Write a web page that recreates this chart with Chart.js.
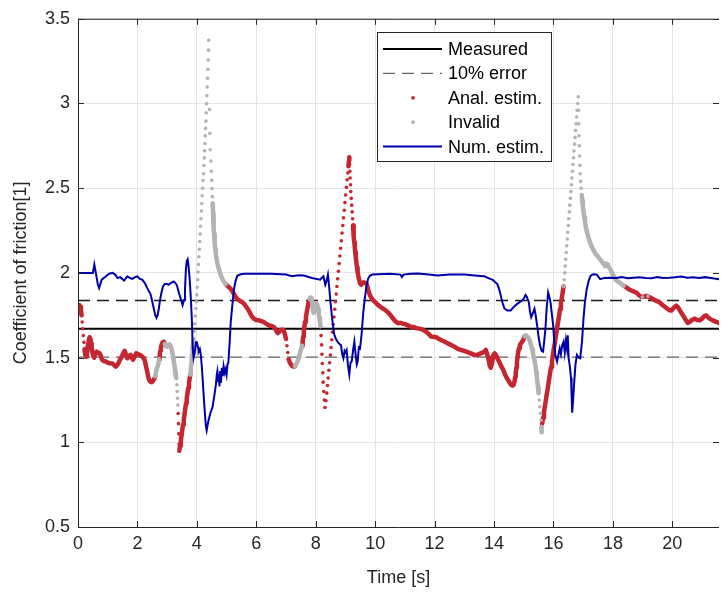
<!DOCTYPE html>
<html>
<head>
<meta charset="utf-8">
<script src="https://cdn.jsdelivr.net/npm/chart.js@4.4.1/dist/chart.umd.min.js"></script>
<style>
  html, body { margin: 0; padding: 0; background: #fff; }
  #wrap { width: 723px; height: 597px; }
</style>
</head>
<body>
<div id="wrap"><canvas id="c" width="723" height="597"></canvas></div>
<script>
// ---- data ----
var xTicks = [0, 2, 4, 6, 8, 10, 12, 14, 16, 18, 20];
var yTicks = [0.5, 1, 1.5, 2, 2.5, 3, 3.5];
var xMax = 21.57;

var measured = 1.67;
var errHi = 1.837;
var errLo = 1.503;

// numerical estimate [t, mu]
var numEst = [
	[0,2.0],[0.5,2.0],[0.55,2.05],[0.6,2.0],[0.67,1.93],[0.71,1.91],[0.8,1.96],[0.94,1.98],[1.05,1.995],
	[1.16,2.0],[1.25,1.99],[1.33,1.97],[1.42,1.975],[1.55,1.955],[1.66,1.98],[1.75,1.97],[1.83,1.965],
	[1.92,1.975],[2.0,1.98],[2.08,1.965],[2.16,1.96],[2.25,1.94],[2.33,1.91],[2.44,1.875],[2.5,1.83],
	[2.55,1.79],[2.6,1.75],[2.64,1.735],[2.68,1.75],[2.72,1.79],[2.77,1.85],[2.81,1.885],[2.86,1.92],
	[2.92,1.935],[3.0,1.935],[3.05,1.93],[3.12,1.94],[3.22,1.95],[3.28,1.94],[3.33,1.925],[3.4,1.88],
	[3.46,1.846],[3.52,1.81],[3.57,1.84],[3.6,1.9],[3.63,2.02],[3.66,2.07],[3.69,2.08],[3.72,2.04],
	[3.76,1.96],[3.8,1.84],[3.83,1.73],[3.86,1.56],[3.89,1.5],[3.93,1.53],[3.97,1.59],[4.0,1.59],
	[4.04,1.56],[4.06,1.535],[4.1,1.55],[4.13,1.52],[4.17,1.44],[4.22,1.3],[4.27,1.17],[4.3,1.1],
	[4.33,1.07],[4.38,1.12],[4.45,1.17],[4.53,1.21],[4.6,1.29],[4.64,1.34],[4.67,1.4],[4.69,1.42],
	[4.72,1.36],[4.74,1.4],[4.76,1.33],[4.78,1.42],[4.81,1.35],[4.84,1.44],[4.87,1.39],[4.9,1.45],
	[4.94,1.41],[4.97,1.43],[5.0,1.4],[5.03,1.46],[5.06,1.47],[5.1,1.58],[5.14,1.71],[5.2,1.82],
	[5.25,1.905],[5.3,1.95],[5.36,1.983],[5.47,1.992],[5.6,1.995],[6.0,1.995],[6.5,1.995],[7.0,1.99],
	[7.2,1.98],[7.42,1.986],[7.6,1.985],[7.87,1.97],[8.0,1.965],[8.15,1.96],[8.2,1.97],[8.26,1.98],
	[8.32,1.93],[8.36,1.95],[8.41,1.99],[8.45,1.92],[8.5,1.82],[8.54,1.75],[8.6,1.66],[8.63,1.632],
	[8.68,1.61],[8.74,1.593],[8.8,1.58],[8.85,1.574],[8.89,1.52],[8.93,1.496],[8.97,1.54],[9.0,1.53],
	[9.04,1.545],[9.08,1.46],[9.13,1.4],[9.17,1.47],[9.21,1.477],[9.26,1.55],[9.3,1.594],[9.34,1.52],
	[9.38,1.46],[9.41,1.477],[9.45,1.56],[9.49,1.554],[9.54,1.632],[9.57,1.7],[9.6,1.768],[9.66,1.86],
	[9.71,1.924],[9.76,1.965],[9.82,1.983],[9.9,1.99],[10.1,1.992],[10.5,1.995],[10.85,1.99],[10.9,1.975],
	[10.95,1.99],[11.2,1.995],[11.44,1.996],[11.8,1.99],[12.1,1.985],[12.5,1.99],[13.0,1.99],[13.44,1.983],
	[13.67,1.98],[13.89,1.963],[13.95,1.96],[14.04,1.945],[14.11,1.934],[14.16,1.91],[14.2,1.885],
	[14.28,1.827],[14.35,1.79],[14.45,1.778],[14.56,1.778],[14.67,1.8],[14.78,1.817],[14.88,1.83],
	[14.95,1.837],[15.02,1.855],[15.06,1.87],[15.1,1.86],[15.17,1.827],[15.21,1.77],[15.25,1.739],
	[15.3,1.76],[15.36,1.788],[15.4,1.75],[15.45,1.69],[15.5,1.62],[15.55,1.57],[15.6,1.54],[15.65,1.535],
	[15.69,1.6],[15.73,1.671],[15.77,1.79],[15.82,1.885],[15.86,1.86],[15.9,1.827],[15.95,1.75],[15.99,1.69],
	[16.03,1.58],[16.06,1.516],[16.12,1.477],[16.17,1.52],[16.21,1.554],[16.25,1.52],[16.29,1.57],
	[16.34,1.594],[16.38,1.53],[16.42,1.6],[16.45,1.56],[16.48,1.632],[16.51,1.496],[16.55,1.45],
	[16.59,1.38],[16.61,1.28],[16.63,1.175],[16.66,1.25],[16.7,1.36],[16.74,1.46],[16.79,1.516],
	[16.85,1.5],[16.9,1.496],[16.96,1.594],[17.01,1.73],[17.06,1.83],[17.12,1.904],[17.18,1.95],
	[17.24,1.98],[17.3,1.99],[17.35,1.992],[17.46,1.99],[17.57,1.963],[17.7,1.97],[17.9,1.972],
	[18.1,1.97],[18.3,1.975],[18.5,1.968],[18.7,1.972],[18.9,1.975],[19.1,1.97],[19.3,1.968],[19.5,1.975],
	[19.7,1.97],[19.9,1.972],[20.1,1.975],[20.3,1.978],[20.5,1.972],[20.7,1.975],[20.9,1.97],[21.1,1.975],
	[21.3,1.97],[21.57,1.963]
];

// analytical estimate, valid parts [t, mu] (one list per piece)
var analSegs = [
	[[0,1.77],[0.02,1.79],[0.05,1.81],[0.08,1.8],[0.1,1.78],[0.12,1.75],[0.14,1.71],[0.16,1.67],[0.18,1.63],
	 [0.2,1.59],[0.22,1.55],[0.24,1.52],[0.27,1.505],[0.3,1.52],[0.32,1.55],[0.34,1.58],[0.36,1.6],[0.39,1.62],
	 [0.42,1.61],[0.44,1.585],[0.46,1.56],[0.48,1.535],[0.51,1.51],[0.55,1.5],[0.59,1.52],[0.63,1.535],
	 [0.68,1.53],[0.73,1.525],[0.77,1.51],[0.8,1.49],[0.86,1.48],[0.94,1.477],[1.0,1.47],[1.08,1.467],
	 [1.16,1.465],[1.22,1.455],[1.27,1.447],[1.32,1.455],[1.36,1.467],[1.42,1.49],[1.47,1.505],[1.52,1.525],
	 [1.57,1.54],[1.61,1.52],[1.66,1.496],[1.72,1.51],[1.77,1.516],[1.81,1.5],[1.85,1.487],[1.9,1.505],
	 [1.96,1.525],[2.02,1.52],[2.08,1.516],[2.14,1.51],[2.19,1.5],[2.24,1.487],[2.27,1.465],[2.3,1.44],
	 [2.33,1.418],[2.36,1.39],[2.39,1.37],[2.43,1.358],[2.48,1.355],[2.53,1.365],[2.57,1.375],[2.6,1.39]],
	[[2.73,1.49],[2.75,1.515],[2.77,1.54],[2.79,1.56],[2.81,1.575],[2.85,1.59],[2.89,1.593],[2.92,1.58]],
	[[3.37,1.17],[3.38,1.11],[3.39,1.05],[3.4,0.99],[3.41,0.95],[3.435,0.98],[3.46,1.01],[3.485,1.04],
	 [3.51,1.075],[3.535,1.105],[3.56,1.135],[3.585,1.165],[3.61,1.2],[3.635,1.23],[3.66,1.26],[3.685,1.29],
	 [3.71,1.32],[3.735,1.35],[3.76,1.38],[3.78,1.4]],
	[[4.97,1.934],[5.05,1.92],[5.14,1.905],[5.2,1.89],[5.25,1.875],[5.3,1.86],[5.36,1.846],[5.45,1.835],
	 [5.53,1.827],[5.6,1.815],[5.66,1.8],[5.72,1.785],[5.77,1.77],[5.81,1.755],[5.86,1.74],[5.92,1.73],
	 [6.0,1.722],[6.09,1.72],[6.17,1.715],[6.25,1.71],[6.33,1.7],[6.42,1.69],[6.5,1.688],[6.59,1.681],
	 [6.64,1.67],[6.68,1.655],[6.72,1.645],[6.76,1.65],[6.81,1.662],[6.87,1.665],[6.92,1.662],[6.95,1.645],
	 [6.98,1.625],[7.0,1.61],[7.03,1.57],[7.06,1.53],[7.09,1.49],[7.13,1.47],[7.18,1.457],[7.22,1.45],
	 [7.26,1.447],[7.3,1.45]],
	[[7.54,1.57],[7.56,1.595],[7.58,1.625],[7.6,1.655],[7.62,1.685],[7.64,1.71],[7.67,1.74],[7.7,1.77],
	 [7.73,1.8],[7.76,1.825],[7.8,1.845]],
	[[8.16,1.685],[8.18,1.63],[8.2,1.575],[8.21,1.52],[8.22,1.465],[8.24,1.41],[8.25,1.355],[8.27,1.3],
	 [8.29,1.25],[8.31,1.205],[8.345,1.245],[8.37,1.29],[8.394,1.335],[8.419,1.38],[8.443,1.425],[8.468,1.47],
	 [8.492,1.515],[8.517,1.56],[8.541,1.605],[8.566,1.65],[8.59,1.695],[8.615,1.74],[8.64,1.785],[8.664,1.83],
	 [8.689,1.875],[8.713,1.92],[8.738,1.965],[8.762,2.01],[8.787,2.055],[8.811,2.1],[8.836,2.145],[8.86,2.19],
	 [8.885,2.235],[8.91,2.28],[8.934,2.325],[8.959,2.37],[8.983,2.415],[9.008,2.46],[9.032,2.505],[9.057,2.55],
	 [9.08,2.59],[9.1,2.63],[9.12,2.665],[9.13,2.683],[9.14,2.64],[9.148,2.6],[9.158,2.56],[9.17,2.52],
	 [9.18,2.48],[9.195,2.44],[9.21,2.4],[9.225,2.36],[9.24,2.32],[9.255,2.28],[9.27,2.245],[9.285,2.21],
	 [9.3,2.18],[9.315,2.15],[9.33,2.12],[9.35,2.09],[9.37,2.06],[9.39,2.03],[9.41,2.005],[9.43,1.985],
	 [9.46,1.96],[9.49,1.94],[9.53,1.93],[9.57,1.94],[9.61,1.945],[9.66,1.94],[9.71,1.935],[9.75,1.91],
	 [9.79,1.885],[9.84,1.862],[9.9,1.845],[9.95,1.835],[10.0,1.827],[10.1,1.81],[10.2,1.797],[10.3,1.785],
	 [10.43,1.768],[10.52,1.75],[10.6,1.73],[10.68,1.715],[10.77,1.703],[10.85,1.705],[10.93,1.7],[11.0,1.698],
	 [11.1,1.69],[11.2,1.682],[11.3,1.68],[11.4,1.673],[11.49,1.671],[11.6,1.665],[11.72,1.652],[11.8,1.64],
	 [11.88,1.625],[11.96,1.623],[12.05,1.62],[12.15,1.61],[12.22,1.603],[12.33,1.595],[12.44,1.584],
	 [12.55,1.575],[12.67,1.564],[12.78,1.552],[12.89,1.545],[13.0,1.54],[13.11,1.532],[13.22,1.525],
	 [13.33,1.516],[13.44,1.516],[13.55,1.525],[13.65,1.532],[13.72,1.545],[13.76,1.525],[13.8,1.5],
	 [13.83,1.475],[13.86,1.45],[13.89,1.44],[13.92,1.46],[13.95,1.49],[13.98,1.515],[14.02,1.525],
	 [14.08,1.51],[14.13,1.49],[14.17,1.477],[14.24,1.45],[14.31,1.428],[14.37,1.4],[14.43,1.38],[14.5,1.36],
	 [14.56,1.342],[14.62,1.335],[14.66,1.34],[14.69,1.36],[14.71,1.385],[14.73,1.41],[14.75,1.44],
	 [14.77,1.47],[14.79,1.5],[14.81,1.53],[14.84,1.555],[14.87,1.574],[14.93,1.59],[14.98,1.603],[15.03,1.625]],
	[[15.62,1.11],[15.65,1.145],[15.68,1.18],[15.71,1.21],[15.74,1.245],[15.77,1.28],[15.8,1.31],[15.83,1.345],
	 [15.86,1.38],[15.89,1.415],[15.92,1.445],[15.95,1.48],[15.98,1.515],[16.01,1.55],[16.04,1.58],
	 [16.07,1.615],[16.1,1.65],[16.13,1.685],[16.16,1.715],[16.19,1.75],[16.22,1.785],[16.25,1.82],
	 [16.28,1.85],[16.31,1.885],[16.34,1.92]],
	[[18.36,1.925],[18.45,1.915],[18.52,1.905],[18.6,1.898],[18.7,1.89],[18.8,1.882],[18.88,1.868],
	 [18.96,1.858],[19.05,1.86],[19.13,1.865],[19.22,1.857],[19.3,1.85],[19.4,1.84],[19.5,1.832],[19.58,1.825],
	 [19.67,1.81],[19.75,1.8],[19.82,1.79],[19.9,1.78],[19.97,1.778],[20.05,1.795],[20.13,1.807],[20.2,1.795],
	 [20.28,1.77],[20.36,1.749],[20.44,1.725],[20.52,1.705],[20.58,1.71],[20.66,1.722],[20.75,1.73],
	 [20.84,1.722],[20.92,1.72],[21.0,1.73],[21.08,1.745],[21.14,1.749],[21.22,1.735],[21.3,1.725],
	 [21.38,1.718],[21.46,1.712],[21.57,1.705]]
];

// analytical estimate, invalid parts [t, mu]
var invalidSegs = [
	[[2.6,1.39],[2.63,1.42],[2.66,1.44],[2.7,1.457],[2.73,1.49]],
	[[2.92,1.58],[2.96,1.565],[3.0,1.565],[3.04,1.575],[3.08,1.578],[3.12,1.565],[3.15,1.55],[3.18,1.525],
	 [3.2,1.5],[3.22,1.475],[3.25,1.45],[3.27,1.42],[3.29,1.39],[3.31,1.38],[3.33,1.34],[3.34,1.3],
	 [3.35,1.26],[3.36,1.22]],
	[[3.78,1.4],[3.795,1.43],[3.81,1.46],[3.825,1.49],[3.84,1.52],[3.855,1.55],[3.87,1.58],[3.885,1.61],
	 [3.905,1.655],[3.925,1.7],[3.945,1.745],[3.965,1.79],[3.985,1.83],[4.0,1.87],[4.014,1.915],[4.028,1.96],
	 [4.041,2.005],[4.055,2.05],[4.069,2.095],[4.083,2.14],[4.097,2.185],[4.11,2.23],[4.124,2.275],
	 [4.138,2.32],[4.152,2.365],[4.165,2.41],[4.179,2.455],[4.193,2.5],[4.207,2.545],[4.225,2.585],
	 [4.236,2.634],[4.248,2.679],[4.259,2.721],[4.27,2.764],[4.281,2.809],[4.292,2.853],[4.303,2.896],
	 [4.314,2.945],[4.325,2.999],[4.337,3.046],[4.348,3.097],[4.359,3.149],[4.37,3.202],[4.381,3.257],
	 [4.392,3.315],[4.397,3.373],[4.426,2.965],[4.437,2.824],[4.448,2.727],[4.472,2.66],[4.487,2.6],
	 [4.5,2.546],[4.512,2.498],[4.522,2.45],[4.53,2.41],[4.538,2.38],[4.546,2.35],[4.554,2.32],[4.563,2.29],
	 [4.572,2.26],[4.582,2.23],[4.594,2.2],[4.607,2.17],[4.622,2.14],[4.64,2.11],[4.66,2.085],[4.685,2.06],
	 [4.715,2.04],[4.745,2.02],[4.78,2.0],[4.82,1.98],[4.87,1.96],[4.92,1.945],[4.97,1.934]],
	[[7.3,1.45],[7.34,1.46],[7.38,1.475],[7.42,1.495],[7.46,1.52],[7.5,1.545],[7.54,1.57]],
	[[7.8,1.845],[7.82,1.855],[7.85,1.85],[7.87,1.83],[7.89,1.8],[7.91,1.775],[7.93,1.765],[7.95,1.775],
	 [7.97,1.795],[7.99,1.815],[8.02,1.822],[8.05,1.81],[8.08,1.785],[8.1,1.76],[8.12,1.735],[8.14,1.71],
	 [8.16,1.685]],
	[[15.03,1.625],[15.07,1.632],[15.12,1.625],[15.17,1.613],[15.21,1.595],[15.25,1.57],[15.28,1.55],
	 [15.31,1.525],[15.34,1.5],[15.37,1.475],[15.4,1.445],[15.42,1.415],[15.44,1.385],[15.46,1.355],
	 [15.48,1.325],[15.5,1.29],[15.52,1.25],[15.54,1.21],[15.56,1.17],[15.58,1.13],[15.59,1.09],[15.6,1.06]],
	[[16.34,1.92],[16.36,1.96],[16.38,2.0],[16.395,2.04],[16.41,2.08],[16.43,2.12],[16.445,2.16],
	 [16.465,2.2],[16.48,2.24],[16.5,2.28],[16.515,2.32],[16.535,2.36],[16.55,2.4],[16.57,2.44],[16.585,2.48],
	 [16.605,2.52],[16.62,2.56],[16.64,2.6],[16.655,2.64],[16.675,2.68],[16.69,2.72],[16.71,2.76],
	 [16.725,2.8],[16.745,2.84],[16.76,2.88],[16.78,2.92],[16.795,2.96],[16.815,3.0],[16.835,3.04],
	 [16.845,2.96],[16.85,2.88],[16.86,2.81],[16.87,2.75],[16.88,2.69],[16.89,2.635],[16.9,2.585],
	 [16.915,2.54],[16.93,2.5],[16.95,2.46],[16.97,2.425],[16.99,2.39],[17.01,2.36],[17.035,2.33],
	 [17.06,2.3],[17.09,2.27],[17.12,2.245],[17.16,2.22],[17.2,2.195],[17.25,2.17],[17.3,2.15],[17.36,2.13],
	 [17.43,2.11],[17.5,2.095],[17.57,2.08],[17.64,2.065],[17.7,2.05],[17.74,2.04],[17.78,2.055],
	 [17.83,2.05],[17.88,2.03],[17.93,2.015],[17.98,1.995],[18.03,1.98],[18.08,1.965],[18.13,1.953],
	 [18.2,1.945],[18.29,1.934],[18.36,1.925]],
	[[18.99,1.858]],
	[[19.18,1.863]]
];

// ---- styles ----
var AXIS = "#262626";
var RED = "#c5262f";
var GREY = "#b3b3b3";
var BLUE = "#0000aa";
var FONT = "'Liberation Sans', Arial, Helvetica, sans-serif";

function joinSegs(segs)
{
	var out = [];
	segs.forEach(function(seg, i) {
		if (i > 0) out.push({x: seg[0][0], y: null});
		seg.forEach(function(p) { out.push({x: p[0], y: p[1]}); });
	});
	return out;
}

function toXY(list)
{
	return list.map(function(p) { return {x: p[0], y: p[1]}; });
}

function hline(v)
{
	return [{x: 0, y: v}, {x: xMax, y: v}];
}

// dense samples give a solid stroke, steep jumps leave the dots alone
function dotColor(color)
{
	return function(ctx) {
		var d = Math.hypot(ctx.p1.x - ctx.p0.x, ctx.p1.y - ctx.p0.y);
		return d > 6.5 ? "rgba(0,0,0,0)" : color;
	};
}

function markSet(label, segs, color, order)
{
	return {
		label: label,
		data: joinSegs(segs),
		showLine: true,
		spanGaps: false,
		borderColor: color,
		borderWidth: 4.5,
		borderCapStyle: "round",
		borderJoinStyle: "round",
		segment: {borderColor: dotColor(color)},
		pointRadius: 1.8,
		pointBorderWidth: 0,
		pointBackgroundColor: color,
		order: order
	};
}

var legendItems = [
	{text: "Measured", kind: "line", color: "#000", width: 2, dash: []},
	{text: "10% error", kind: "line", color: "#666", width: 1.3, dash: [12, 7]},
	{text: "Anal. estim.", kind: "dot", color: RED},
	{text: "Invalid", kind: "dot", color: GREY},
	{text: "Num. estim.", kind: "line", color: BLUE, width: 2, dash: []}
];

var framePlugin = {
	id: "frame",
	afterDatasetsDraw: function(chart)
	{
		var ctx = chart.ctx, a = chart.chartArea;
		var sx = chart.scales.x, sy = chart.scales.y;
		ctx.save();
		ctx.strokeStyle = AXIS;
		ctx.lineWidth = 1;
		ctx.beginPath();
		ctx.moveTo(a.left + 0.5, a.bottom + 0.5);
		ctx.lineTo(a.left + 0.5, a.top + 0.5);
		ctx.lineTo(a.right, a.top + 0.5);
		ctx.moveTo(a.left, a.bottom + 0.5);
		ctx.lineTo(a.right, a.bottom + 0.5);
		xTicks.forEach(function(v) {
			var px = Math.round(sx.getPixelForValue(v)) + 0.5;
			ctx.moveTo(px, a.bottom); ctx.lineTo(px, a.bottom - 6);
			ctx.moveTo(px, a.top); ctx.lineTo(px, a.top + 6);
		});
		yTicks.forEach(function(v) {
			var py = Math.round(sy.getPixelForValue(v)) + 0.5;
			ctx.moveTo(a.left, py); ctx.lineTo(a.left + 6, py);
			ctx.moveTo(a.right, py); ctx.lineTo(a.right - 6, py);
		});
		ctx.stroke();

		// legend box, top right inside the axes
		var bx = 377.5, by = 32.5, bw = 174, bh = 129;
		ctx.fillStyle = "#fff";
		ctx.fillRect(bx, by, bw, bh);
		ctx.strokeStyle = AXIS;
		ctx.strokeRect(bx, by, bw, bh);
		ctx.font = "18px " + FONT;
		ctx.textBaseline = "middle";
		ctx.textAlign = "left";
		legendItems.forEach(function(it, i) {
			var y = 49 + i * 24.4;
			if (it.kind == "line")
			{
				ctx.strokeStyle = it.color;
				ctx.lineWidth = it.width;
				ctx.setLineDash(it.dash);
				ctx.beginPath();
				ctx.moveTo(383, y); ctx.lineTo(442, y);
				ctx.stroke();
				ctx.setLineDash([]);
			}
			else
			{
				ctx.fillStyle = it.color;
				ctx.beginPath();
				ctx.arc(413, y, 1.9, 0, Math.PI * 2);
				ctx.fill();
			}
			ctx.fillStyle = "#000";
			ctx.fillText(it.text, 448, y + 1);
		});
		ctx.restore();
	}
};

var chart = new Chart(document.getElementById("c"), {
	type: "scatter",
	data: {
		datasets: [
			{label: "Num. estim.", data: toXY(numEst), showLine: true, borderColor: BLUE, borderWidth: 2,
			 pointRadius: 0, tension: 0, order: 0},
			markSet("Invalid", invalidSegs, GREY, 1),
			markSet("Anal. estim.", analSegs, RED, 2),
			{label: "10% error", data: hline(errHi), showLine: true, borderColor: "#1a1a1a", borderWidth: 1.3,
			 borderDash: [12, 7], pointRadius: 0, order: 3},
			{label: "10% error low", data: hline(errLo), showLine: true, borderColor: "#666", borderWidth: 1.3,
			 borderDash: [12, 7], pointRadius: 0, order: 4},
			{label: "Measured", data: hline(measured), showLine: true, borderColor: "#000", borderWidth: 2,
			 pointRadius: 0, order: 5}
		]
	},
	options: {
		responsive: false,
		animation: false,
		devicePixelRatio: 1,
		events: [],
		layout: {padding: {left: 0, right: 0, top: 13, bottom: 0}},
		plugins: {legend: {display: false}, tooltip: {enabled: false}},
		scales: {
			x: {
				type: "linear", min: 0, max: xMax,
				afterBuildTicks: function(s) { s.ticks = xTicks.map(function(v) { return {value: v}; }); },
				afterFit: function(s) { s.height = 70; },
				grid: {color: "#e5e5e5", drawTicks: false},
				border: {display: false},
				ticks: {color: AXIS, padding: 6, maxRotation: 0, font: {size: 18, family: FONT},
					callback: function(v) { return String(v); }},
				title: {display: true, text: "Time [s]", color: AXIS, padding: {top: 0, bottom: 8},
					font: {size: 18, family: FONT}}
			},
			y: {
				type: "linear", min: 0.5, max: 3.5,
				afterBuildTicks: function(s) { s.ticks = yTicks.map(function(v) { return {value: v}; }); },
				afterFit: function(s) { s.width = 78; },
				grid: {color: "#e5e5e5", drawTicks: false},
				border: {display: false},
				ticks: {color: AXIS, padding: 8, font: {size: 18, family: FONT},
					callback: function(v) { return String(v); }},
				title: {display: true, text: "Coefficient of friction[1]", color: AXIS, padding: {top: 10, bottom: 0},
					font: {size: 18, family: FONT}}
			}
		}
	},
	plugins: [framePlugin]
});
</script>
</body>
</html>
